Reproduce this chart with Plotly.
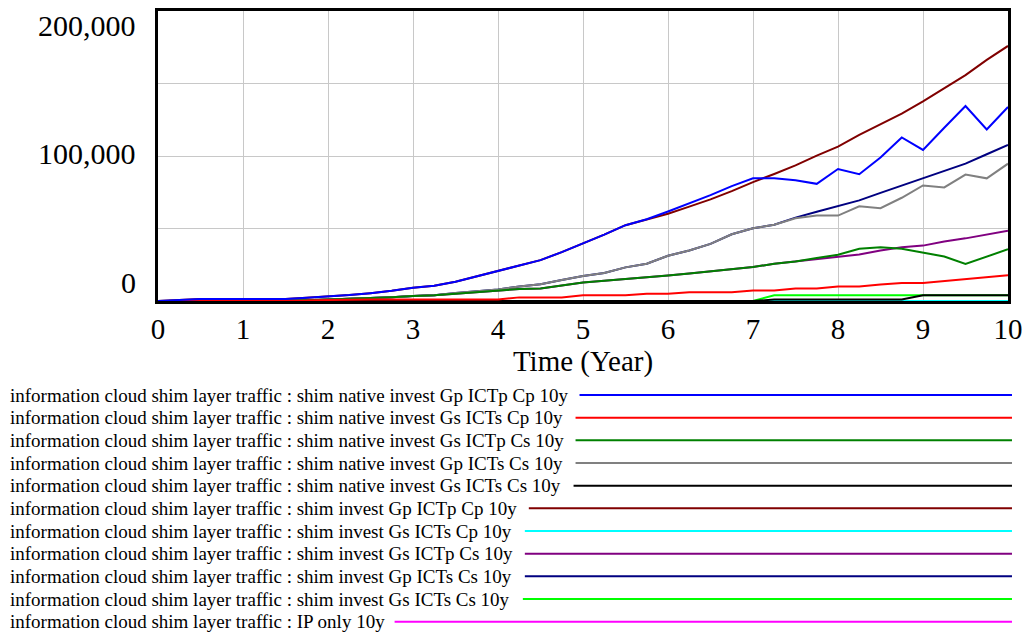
import plotly.graph_objects as go

# ---------------- data ----------------
time_years = [0, 0.25, 0.5, 0.75, 1, 1.25, 1.5, 1.75, 2, 2.25, 2.5, 2.75, 3, 3.25, 3.5, 3.75,
              4, 4.25, 4.5, 4.75, 5, 5.25, 5.5, 5.75, 6, 6.25, 6.5, 6.75, 7, 7.25, 7.5, 7.75,
              8, 8.25, 8.5, 8.75, 9, 9.25, 9.5, 9.75, 10]

native_Gp_ICTp_Cp = [0, 700, 1400, 1400, 1400, 1400, 1400, 2300, 3000, 4100, 5400, 7000, 9200, 10500,
                     13300, 17000, 20800, 24600, 28200, 33700, 39500, 45800, 52300, 56400, 61700,
                     67200, 73000, 79200, 84600, 84600, 83300, 80800, 91000, 87400, 99000, 112800,
                     104200, 119500, 134500, 118300, 133800]
native_Gs_ICTs_Cp = [0, 0, 0, 0, 0, 0, 0, 300, 700, 1000, 1000, 1000, 1000, 1000, 1000, 1000, 1000,
                     2500, 2500, 2500, 4000, 4000, 4000, 5000, 5000, 6100, 6100, 6100, 7300, 7300,
                     8700, 8700, 10000, 10000, 11400, 12500, 12500, 13900, 15200, 16400, 17700]
native_Gs_ICTp_Cs = [0, 0, 300, 300, 300, 300, 300, 600, 1000, 1400, 2000, 2600, 3400, 3900, 5000,
                     6200, 7500, 8300, 8700, 11000, 12800, 13900, 15000, 16300, 17600, 19000, 20300,
                     21800, 23400, 25700, 27300, 29600, 31900, 36000, 37100, 36000, 33200, 30700,
                     25500, 30700, 35700]
native_Gp_ICTs_Cs = [0, 0, 300, 300, 300, 300, 300, 600, 1000, 1400, 2000, 2600, 3400, 3900, 5500,
                     6800, 8000, 10000, 11600, 14500, 17200, 19300, 23200, 25700, 31200, 34800, 39400,
                     46000, 50200, 52600, 57000, 58900, 58900, 65300, 64000, 71200, 79700, 78300,
                     87200, 84600, 94700]
native_Gs_ICTs_Cs = [0, 0, 0, 0, 0, 0, 0, 0, 0, 0, 0, 0, 0, 0, 0, 0, 0, 0, 0, 0, 0, 0, 0, 0, 0, 0, 0,
                     0, 0, 1000, 1000, 1000, 1000, 1000, 1000, 1000, 4000, 4000, 4000, 4000, 4000]
invest_Gp_ICTp_Cp = [0, 700, 1400, 1400, 1400, 1400, 1400, 2300, 3000, 4100, 5400, 7000, 9200, 10500,
                     13300, 17000, 20800, 24600, 28200, 33700, 39500, 45800, 52300, 56400, 60200,
                     65100, 70100, 75800, 82000, 87600, 93500, 100300, 106500, 114500, 121700,
                     129200, 137700, 146800, 155800, 166300, 175900]
invest_Gs_ICTs_Cp = [0] * 41
invest_Gs_ICTp_Cs = [0, 0, 300, 300, 300, 300, 300, 600, 1000, 1400, 2000, 2600, 3400, 3900, 5000,
                     6200, 7500, 8300, 8700, 11000, 12800, 13900, 15000, 16300, 17600, 19000, 20300,
                     21800, 23400, 25700, 27300, 29000, 30700, 32100, 34800, 37100, 38200, 41000,
                     43200, 45900, 48500]
invest_Gp_ICTs_Cs = [0, 0, 300, 300, 300, 300, 300, 600, 1000, 1400, 2000, 2600, 3400, 3900, 5500,
                     6800, 8000, 10000, 11600, 14500, 17200, 19300, 23200, 25700, 31200, 34800, 39400,
                     46000, 50200, 52600, 57500, 61600, 65500, 69400, 74600, 79600, 84900, 89900,
                     94700, 101200, 107600]
invest_Gs_ICTs_Cs = [0, 0, 0, 0, 0, 0, 0, 0, 0, 0, 0, 0, 0, 0, 0, 0, 0, 0, 0, 0, 0, 0, 0, 0, 0, 0, 0,
                     0, 0, 4000, 4000, 4000, 4000, 4000, 4000, 4000, 4000, 4000, 4000, 4000, 4000]
ip_only = [0] * 41

series_labels = [
    "information cloud shim layer traffic : shim native invest Gp ICTp Cp 10y",
    "information cloud shim layer traffic : shim native invest Gs ICTs Cp 10y",
    "information cloud shim layer traffic : shim native invest Gs ICTp Cs 10y",
    "information cloud shim layer traffic : shim native invest Gp ICTs Cs 10y",
    "information cloud shim layer traffic : shim native invest Gs ICTs Cs 10y",
    "information cloud shim layer traffic : shim invest Gp ICTp Cp 10y",
    "information cloud shim layer traffic : shim invest Gs ICTs Cp 10y",
    "information cloud shim layer traffic : shim invest Gs ICTp Cs 10y",
    "information cloud shim layer traffic : shim invest Gp ICTs Cs 10y",
    "information cloud shim layer traffic : shim invest Gs ICTs Cs 10y",
    "information cloud shim layer traffic : IP only 10y",
]
series_values = [native_Gp_ICTp_Cp, native_Gs_ICTs_Cp, native_Gs_ICTp_Cs, native_Gp_ICTs_Cs,
                 native_Gs_ICTs_Cs, invest_Gp_ICTp_Cp, invest_Gs_ICTs_Cp, invest_Gs_ICTp_Cs,
                 invest_Gp_ICTs_Cs, invest_Gs_ICTs_Cs, ip_only]

x_tick_values = [0, 1, 2, 3, 4, 5, 6, 7, 8, 9, 10]
y_grid_values = [0, 50000, 100000, 150000, 200000]
y_label_values = [0, 100000, 200000]
y_label_texts = ["0", "100,000", "200,000"]
x_title = "Time (Year)"

# ---------------- styles / layout ----------------
colors = ["#0000ff", "#ff0000", "#008000", "#808080", "#000000", "#800000",
          "#00ffff", "#800080", "#000080", "#00ff00", "#ff00ff"]
FONT = "Liberation Serif, Times New Roman, serif"
W, H = 1031, 632
L, R, T, B = 158, 18, 8, 331
PW = W - L - R
PH = H - T - B

def px_to_paper_x(px):
    return (px - L) / PW

def py_to_paper_y(py):
    return (H - B - py) / PH

fig = go.Figure()
# draw in reverse so the first series ends on top
for name, vals, col in reversed(list(zip(series_labels, series_values, colors))):
    fig.add_trace(go.Scatter(x=time_years, y=vals, mode="lines", name=name,
                             line=dict(color=col, width=2), showlegend=False))

annotations = []
for v, txt in zip(y_label_values, y_label_texts):
    if v == max(y_label_values):
        anchor, shift = "top", 4
    elif v == min(y_label_values):
        anchor, shift = "bottom", 0
    else:
        anchor, shift = "middle", 3
    annotations.append(dict(x=0, xref="paper", y=v, yref="y", text=txt, showarrow=False,
                            xanchor="right", yanchor=anchor, xshift=-20, yshift=shift,
                            font=dict(family=FONT, size=30, color="black")))

legend_line_start_px = [582, 578, 578, 578, 576, 531, 527, 527, 527, 525, 396]
legend_line_end_px = 1017
legend_text_px = 7
legend_row0_py = 396
legend_row_step = 22.9
shapes = []
for i, (lab, col) in enumerate(zip(series_labels, colors)):
    py = legend_row0_py + legend_row_step * i
    yp = py_to_paper_y(py)
    annotations.append(dict(x=px_to_paper_x(legend_text_px), xref="paper", y=yp, yref="paper",
                            text=lab, showarrow=False, xanchor="left", yanchor="middle",
                            font=dict(family=FONT, size=19, color="black")))
    shapes.append(dict(type="line", xref="paper", yref="paper",
                       x0=px_to_paper_x(legend_line_start_px[i]), x1=px_to_paper_x(legend_line_end_px),
                       y0=yp, y1=yp, line=dict(color=col, width=2)))

fig.update_layout(
    width=W, height=H, autosize=False,
    margin=dict(l=L, r=R, t=T, b=B, pad=0),
    paper_bgcolor="white", plot_bgcolor="white",
    annotations=annotations, shapes=shapes,
    xaxis=dict(range=[0, 10], tickvals=x_tick_values, ticks="", showgrid=True,
               gridcolor="#c8c8c8", gridwidth=1, zeroline=False,
               showline=True, mirror=True, linecolor="black", linewidth=3,
               tickfont=dict(family=FONT, size=29, color="black"),
               title=dict(text=x_title, font=dict(family=FONT, size=29, color="black"), standoff=6)),
    yaxis=dict(range=[0, 200000], tickvals=y_grid_values, showticklabels=False, ticks="",
               showgrid=True, gridcolor="#c8c8c8", gridwidth=1, zeroline=False,
               showline=True, mirror=True, linecolor="black", linewidth=3),
)

fig.write_html("out.html")
